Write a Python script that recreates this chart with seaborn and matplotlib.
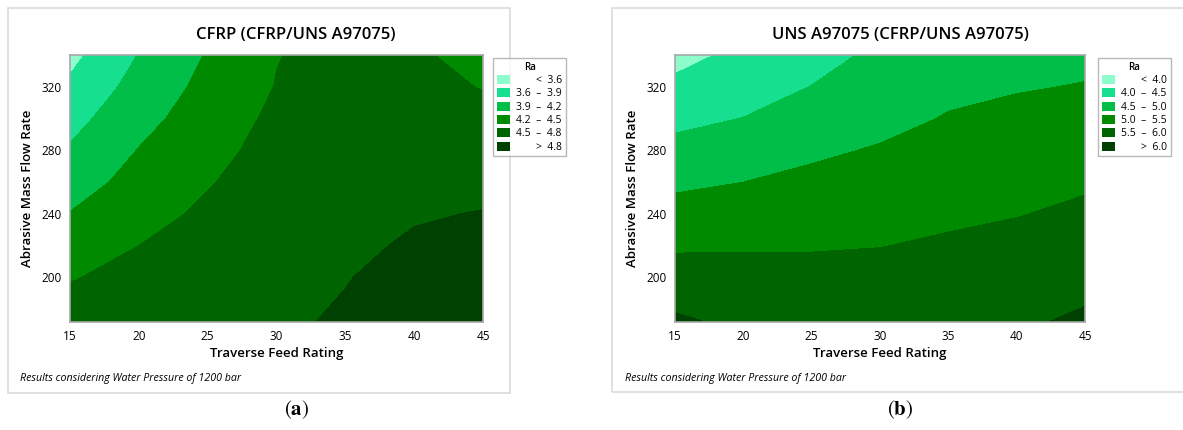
"""Contour plots of Ra for the CFRP/UNS A97075 stack."""
import matplotlib
matplotlib.use("Agg")
import matplotlib.pyplot as plt
from matplotlib.patches import Patch, Rectangle
import pandas as pd
import seaborn as sns

# grid the values were read on
feed = [15, 20, 25, 30, 35, 40, 45]
flow = [172, 200, 220, 240, 260, 280, 300, 320, 340]

# Ra, one row per feed value, flow from bottom to top
ra_cfrp = [
    [4.65, 4.48, 4.34, 4.21, 4.07, 3.93, 3.80, 3.65, 3.52],
    [4.70, 4.60, 4.50, 4.40, 4.30, 4.21, 4.11, 4.01, 3.91],
    [4.74, 4.68, 4.62, 4.55, 4.48, 4.41, 4.34, 4.28, 4.22],
    [4.76, 4.74, 4.71, 4.68, 4.64, 4.60, 4.56, 4.51, 4.49],
    [4.83, 4.79, 4.75, 4.71, 4.68, 4.66, 4.64, 4.62, 4.60],
    [4.95, 4.88, 4.83, 4.78, 4.72, 4.66, 4.61, 4.57, 4.53],
    [4.98, 4.91, 4.86, 4.81, 4.74, 4.66, 4.57, 4.49, 4.43],
]

# Ra
ra_uns = [
    [6.08, 5.70, 5.44, 5.17, 4.91, 4.64, 4.38, 4.11, 3.84],
    [5.90, 5.68, 5.45, 5.22, 5.00, 4.76, 4.51, 4.28, 4.12],
    [5.92, 5.66, 5.46, 5.28, 5.11, 4.92, 4.72, 4.51, 4.32],
    [5.85, 5.65, 5.49, 5.35, 5.20, 5.04, 4.86, 4.70, 4.60],
    [5.85, 5.69, 5.56, 5.42, 5.29, 5.15, 5.03, 4.90, 4.78],
    [5.94, 5.78, 5.65, 5.48, 5.36, 5.23, 5.11, 4.97, 4.88],
    [6.07, 5.87, 5.73, 5.59, 5.44, 5.30, 5.16, 5.02, 4.90],
]

levels_cfrp = [3.6, 3.9, 4.2, 4.5, 4.8]
levels_uns = [4.0, 4.5, 5.0, 5.5, 6.0]

# figure spaces keep the "<" / ">" rows lined up with the ranges
PAD = "\u2007\u2008\u2007 "
labels_cfrp = [PAD + " <  3.6", "3.6  –  3.9", "3.9  –  4.2", "4.2  –  4.5", "4.5  –  4.8", PAD + " >  4.8"]
labels_uns = [PAD + " <  4.0", "4.0  –  4.5", "4.5  –  5.0", "5.0  –  5.5", "5.5  –  6.0", PAD + " >  6.0"]

greens = ["#8ffccb", "#16e08f", "#00be48", "#008a00", "#006400", "#004000"]

FONT = ["Open Sans", "Noto Sans", "DejaVu Sans"]
FOOT = "Results considering Water Pressure of 1200 bar"


def to_frame(values):
    rows = []
    for f, col in zip(feed, values):
        for q, ra in zip(flow, col):
            rows.append({"feed": f, "flow": q, "Ra": ra})
    return pd.DataFrame(rows)


def draw_panel(fig, rect, values, levels, labels, legend_at):
    df = to_frame(values)
    grid = df.pivot(index="flow", columns="feed", values="Ra")

    ax = fig.add_axes(rect)
    bounds = [0.0] + levels + [10.0]
    ax.contourf(grid.columns.values, grid.index.values, grid.values,
                levels=bounds, colors=sns.color_palette(greens))

    ax.set_xlim(15, 45)
    ax.set_ylim(172, 340)
    ax.set_xticks([15, 20, 25, 30, 35, 40, 45])
    ax.set_yticks([200, 240, 280, 320])
    ax.tick_params(colors="#9a9a9a", labelcolor="black", labelsize=8.5,
                   length=4, width=1, direction="out", pad=2)
    for s in ax.spines.values():
        s.set_color("#a8a8a8")
        s.set_linewidth(1.2)
    ax.set_xlabel("Traverse Feed Rating", fontsize=9.5, fontweight="semibold", labelpad=3)
    ax.set_ylabel("Abrasive Mass Flow Rate", fontsize=9.5, fontweight="semibold", labelpad=5)

    handles = [Patch(facecolor=c, edgecolor="none") for c in greens]
    leg = fig.legend(handles, labels, title="Ra", loc="upper left",
                     bbox_to_anchor=legend_at, fontsize=7.5, title_fontsize=7,
                     frameon=True, fancybox=False, handlelength=1.3,
                     handleheight=0.95, handletextpad=0.6, labelspacing=0.22,
                     borderpad=0.35, borderaxespad=0)
    leg.get_frame().set_edgecolor("#a8a8a8")
    leg.get_frame().set_linewidth(1.0)
    leg.get_title().set_fontweight("semibold")
    return ax


def main():
    sns.set_theme(style="white")
    plt.rcParams["font.family"] = FONT
    plt.rcParams["text.color"] = "black"
    plt.rcParams["axes.labelcolor"] = "black"
    plt.rcParams["mathtext.fontset"] = "stix"

    fig = plt.figure(figsize=(11.83, 4.30), dpi=100)
    W, H = 1183, 430

    def fx(px):
        return px / W

    def fy(py):
        return 1 - py / H

    # light frames around each panel
    fig.patches.append(Rectangle((fx(8), fy(393)), fx(502), 385 / H,
                                 transform=fig.transFigure, fill=False,
                                 edgecolor="#dadada", linewidth=1.2))
    fig.patches.append(Rectangle((fx(612), fy(392)), fx(580), 384 / H,
                                 transform=fig.transFigure, fill=False,
                                 edgecolor="#dadada", linewidth=1.2))

    draw_panel(fig, [fx(70), fy(322), fx(413), 267 / H], ra_cfrp, levels_cfrp,
               labels_cfrp, (fx(493), fy(58)))
    draw_panel(fig, [fx(675), fy(322), fx(410), 267 / H], ra_uns, levels_uns,
               labels_uns, (fx(1098), fy(58)))

    fig.text(fx(296), fy(35), "CFRP (CFRP/UNS A97075)", ha="center", va="center",
             fontsize=12, fontweight="semibold")
    fig.text(fx(900), fy(35), "UNS A97075 (CFRP/UNS A97075)", ha="center", va="center",
             fontsize=12, fontweight="semibold")

    fig.text(fx(20), fy(378), FOOT, ha="left", va="center", fontsize=7.7, style="italic")
    fig.text(fx(625), fy(378), FOOT, ha="left", va="center", fontsize=7.7, style="italic")

    fig.text(fx(297), fy(410), r"($\mathbf{a}$)", ha="center", va="center",
             fontsize=15, family="STIXGeneral")
    fig.text(fx(900), fy(410), r"($\mathbf{b}$)", ha="center", va="center",
             fontsize=15, family="STIXGeneral")

    fig.savefig("out.png", dpi=100, facecolor="white")


if __name__ == "__main__":
    main()
